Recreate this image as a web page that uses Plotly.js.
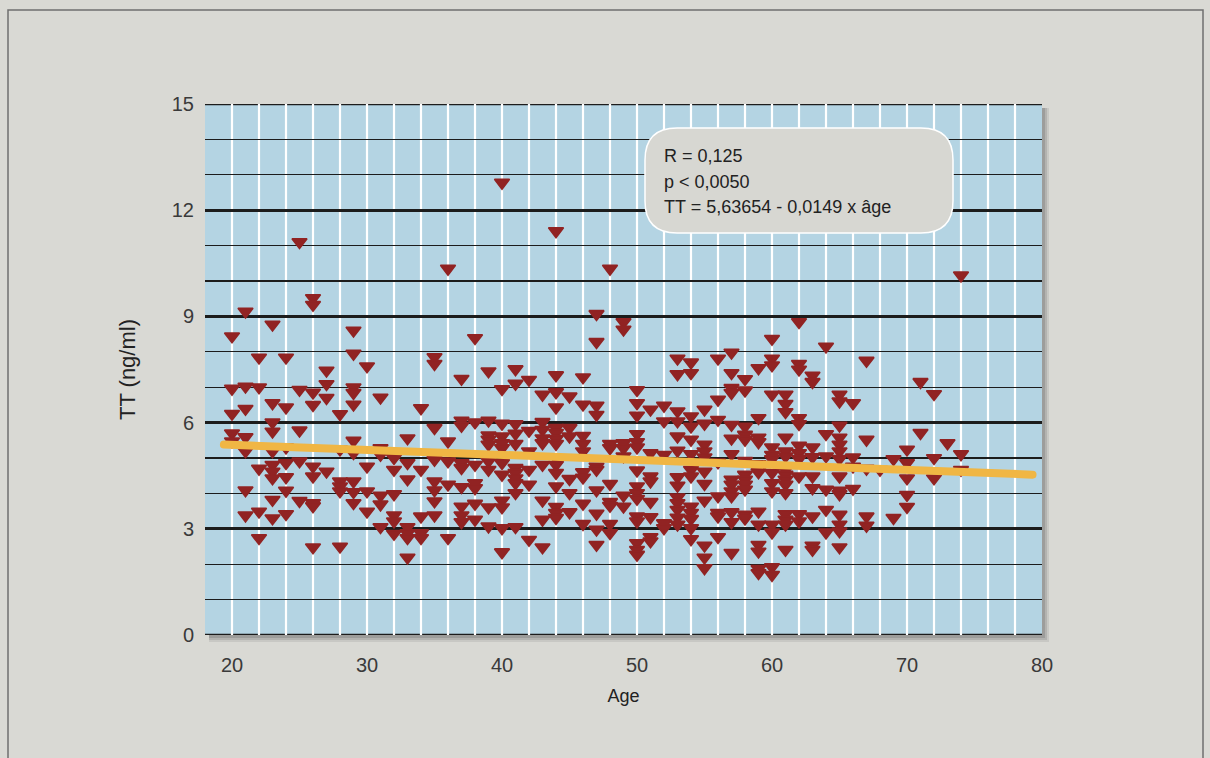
<!DOCTYPE html>
<html>
<head>
<meta charset="utf-8">
<script src="https://cdn.plot.ly/plotly-3.0.1.min.js"></script>
<style>
html, body { margin: 0; padding: 0; background: #d9d9d4; }
#chart { width: 1210px; height: 758px; }
path.js-line { stroke-linecap: round; }
</style>
</head>
<body>
<div id="chart"></div>
<script>
// ---- Data ----
const ages = [20,21,22,23,24,25,26,27,28,29,30,31,32,33,34,35,36,37,38,39,40,41,42,43,44,45,46,47,
              48,49,50,51,52,53,54,55,56,57,58,59,60,61,62,63,64,65,66,67,68,69,70,71,72,73,74];
const ttValues = [
  [8.44, 6.96, 6.25, 5.70, 5.47],                                   // 20
  [9.14, 7.02, 6.39, 5.59, 5.19, 4.09, 3.38],                       // 21
  [7.84, 7.00, 4.70, 3.49, 2.74],                                   // 22
  [8.77, 6.55, 6.01, 5.75, 5.19, 4.81, 4.62, 4.43, 3.82, 3.30],     // 23
  [7.84, 6.43, 5.30, 4.86, 4.46, 4.08, 3.42],                       // 24
  [11.10, 6.93, 5.78, 4.91, 3.79],                                  // 25
  [9.52, 9.33, 6.85, 6.50, 4.76, 4.48, 3.73, 3.64, 2.48],           // 26
  [7.47, 7.09, 6.70, 4.62],                                         // 27
  [6.24, 5.24, 4.34, 4.20, 4.06, 2.50],                             // 28
  [8.60, 7.95, 7.00, 6.84, 6.51, 5.49, 5.14, 4.34, 4.04, 3.73],     // 29
  [7.59, 4.76, 4.06, 3.49],                                         // 30
  [6.71, 5.28, 5.09, 3.94, 3.69, 3.05],                             // 31
  [5.00, 4.67, 3.98, 3.38, 3.21, 2.86],                             // 32
  [5.56, 4.86, 4.40, 3.05, 2.88, 2.74, 2.19],                       // 33
  [6.41, 4.67, 3.35, 2.88, 2.74],                                   // 34
  [7.85, 7.66, 5.85, 4.95, 4.34, 4.09, 3.78, 3.38],                 // 35
  [10.35, 5.47, 4.91, 4.25, 2.74],                                  // 36
  [7.24, 6.06, 5.91, 4.86, 4.72, 4.18, 3.63, 3.38, 3.19],           // 37
  [8.39, 6.01, 4.81, 4.29, 4.15, 3.71, 3.26],                       // 38
  [7.45, 6.06, 5.64, 5.52, 5.38, 4.91, 4.67, 3.61, 3.07],           // 39
  [12.78, 6.95, 5.97, 5.61, 5.42, 5.28, 4.86, 4.53, 3.80, 3.61, 3.02, 2.34], // 40
  [7.51, 7.10, 5.96, 5.69, 5.40, 4.72, 4.58, 4.43, 4.29, 4.01, 3.05],        // 41
  [7.21, 5.77, 5.19, 4.67, 4.25, 2.69],                             // 42
  [6.79, 6.02, 5.80, 5.56, 5.42, 4.81, 3.80, 3.26, 2.48],           // 43
  [11.41, 7.34, 6.86, 6.43, 5.85, 5.71, 5.54, 5.40, 5.00, 4.81, 4.58, 4.20, 3.62, 3.45, 3.31], // 44
  [6.74, 5.85, 5.61, 4.41, 4.01, 3.47],                             // 45
  [7.28, 6.51, 5.63, 5.40, 5.19, 4.60, 4.45, 3.71, 3.14],           // 46
  [9.07, 8.28, 6.48, 6.22, 4.76, 4.67, 4.09, 3.43, 2.98, 2.55],     // 47
  [10.35, 5.40, 5.28, 4.27, 3.76, 3.65, 3.14, 2.88],                // 48
  [8.84, 8.63, 5.42, 5.28, 5.05, 3.94, 3.63],                       // 49
  [6.92, 6.55, 6.20, 5.68, 5.45, 5.30, 4.65, 4.20, 4.01, 3.85, 3.35, 3.21, 2.60, 2.41, 2.27], // 50
  [6.37, 5.14, 4.48, 4.34, 3.76, 3.33, 2.77, 2.65],                 // 51
  [6.48, 6.04, 5.09, 3.16, 3.02],                                   // 52
  [7.81, 7.37, 6.32, 6.04, 5.61, 5.21, 4.46, 4.22, 3.89, 3.73, 3.54, 3.32, 3.12], // 53
  [7.70, 7.40, 6.18, 5.89, 5.52, 5.11, 4.67, 4.48, 3.63, 3.45, 3.28, 3.02, 2.71], // 54
  [6.37, 5.97, 5.38, 5.19, 5.02, 4.62, 4.27, 3.80, 2.53, 2.19, 1.89],             // 55
  [7.81, 6.65, 6.08, 4.88, 3.92, 3.45, 3.35, 2.77],                 // 56
  [7.98, 7.40, 6.98, 6.84, 5.94, 5.55, 5.11, 4.39, 4.25, 4.06, 3.92, 3.47, 3.19, 2.32], // 57
  [7.23, 6.91, 5.89, 5.66, 5.52, 4.92, 4.53, 4.39, 4.25, 4.11, 3.40, 3.29],       // 58
  [7.54, 6.13, 5.58, 5.45, 4.83, 4.60, 3.49, 3.12, 2.55, 2.36, 1.87, 1.75],       // 59
  [8.37, 7.81, 7.62, 6.79, 5.30, 5.09, 4.97, 4.58, 4.29, 4.06, 3.12, 2.90, 1.92, 1.70], // 60
  [6.79, 6.53, 6.30, 5.58, 5.19, 5.05, 4.67, 4.53, 4.39, 4.25, 4.01, 3.42, 3.26, 3.12, 2.41], // 61
  [8.84, 7.66, 7.50, 6.13, 5.96, 5.35, 5.14, 4.98, 4.48, 3.42, 3.21],             // 62
  [7.33, 7.15, 5.30, 5.03, 4.48, 4.15, 3.35, 2.53, 2.41],           // 63
  [8.15, 5.68, 5.05, 4.11, 3.54, 2.90],                             // 64
  [6.79, 6.60, 5.92, 5.58, 5.38, 5.19, 4.98, 4.48, 4.08, 3.98, 3.40, 3.12, 2.93, 2.48], // 65
  [6.55, 5.02, 4.76, 4.13],                                         // 66
  [7.75, 5.52, 4.70, 3.35, 3.09],                                   // 67
  [4.67],                                                           // 68
  [4.97, 3.31],                                                     // 69
  [5.24, 4.86, 4.43, 3.96, 3.62],                                   // 70
  [7.15, 5.71],                                                     // 71
  [6.81, 5.00, 4.43],                                               // 72
  [5.42],                                                           // 73
  [10.16, 5.11, 4.67]                                               // 74
];
const fitAge = [19.4, 79.3];
const fitTT = [5.38, 4.53];
const xTickVals = [20, 30, 40, 50, 60, 70, 80];
const xTickText = ['20', '30', '40', '50', '60', '70', '80'];
const yTickVals = [0, 3, 6, 9, 12, 15];
const yTickText = ['0', '3', '6', '9', '12', '15'];
const statLines = ['R = 0,125', 'p < 0,0050', 'TT = 5,63654 - 0,0149 x âge'];
const xTitle = 'Age';
const yTitle = 'TT (ng/ml)';

// ---- Build traces ----
const ptAge = [], ptTT = [];
ages.forEach((a, i) => ttValues[i].forEach(v => { ptAge.push(a); ptTT.push(v); }));

const FONT = 'Liberation Sans, Arial, Helvetica, sans-serif';
const L = 205, R = 1042, T = 104, B = 635;
const fx = p => (p - L) / (R - L);
const fy = p => (B - p) / (B - T);

const shapes = [];
// outer frame
shapes.push({type: 'path', xref: 'paper', yref: 'paper', layer: 'below',
  path: `M${fx(8)},${fy(775)} L${fx(8)},${fy(10)} L${fx(1203)},${fy(10)} L${fx(1203)},${fy(775)}`,
  line: {color: '#6f6f6f', width: 1.5}});
// drop shadow of the plot area (right and bottom)
[[7, 0.10], [5, 0.14], [3, 0.18]].forEach(([d, op]) => {
  shapes.push({type: 'path', xref: 'paper', yref: 'paper', layer: 'below',
    path: `M${fx(R)},${fy(T + 4)} L${fx(R + d)},${fy(T + 4)} L${fx(R + d)},${fy(B + d)} L${fx(L + 4)},${fy(B + d)} L${fx(L + 4)},${fy(B)} L${fx(R)},${fy(B)} Z`,
    fillcolor: `rgba(60,60,60,${op})`, line: {width: 0}});
});
// top and bottom black border lines
[yTickVals[0], yTickVals[yTickVals.length - 1]].forEach(v => {
  shapes.push({type: 'line', xref: 'paper', yref: 'y', x0: 0, x1: 1, y0: v, y1: v,
    layer: 'between', line: {color: '#1c1c1c', width: 2.6}});
});
// white vertical grid lines every 2 years
for (let g = 20; g < 80; g += 2) {
  shapes.push({type: 'line', xref: 'x', yref: 'paper', x0: g, x1: g, y0: 0, y1: 1,
    layer: 'between', line: {color: '#ffffff', width: 2.2}});
}
// rounded statistics box
const bx0 = 645, bx1 = 953, by0 = 128, by1 = 233, r = 32;
shapes.push({type: 'path', xref: 'paper', yref: 'paper', layer: 'above',
  path: `M${fx(bx0 + r)},${fy(by0)} L${fx(bx1 - r)},${fy(by0)} Q${fx(bx1)},${fy(by0)} ${fx(bx1)},${fy(by0 + r)} ` +
        `L${fx(bx1)},${fy(by1 - r)} Q${fx(bx1)},${fy(by1)} ${fx(bx1 - r)},${fy(by1)} ` +
        `L${fx(bx0 + r)},${fy(by1)} Q${fx(bx0)},${fy(by1)} ${fx(bx0)},${fy(by1 - r)} ` +
        `L${fx(bx0)},${fy(by0 + r)} Q${fx(bx0)},${fy(by0)} ${fx(bx0 + r)},${fy(by0)} Z`,
  fillcolor: '#d7d7d2', line: {color: '#ffffff', width: 1.5}});

const annotations = statLines.map((t, i) => ({
  xref: 'paper', yref: 'paper', x: fx(662), y: fy(156 + i * 25.5),
  xanchor: 'left', yanchor: 'middle', showarrow: false, text: t,
  font: {family: FONT, size: 18, color: '#222222'}
}));

const traces = [
  {type: 'scatter', mode: 'markers', x: ptAge, y: ptTT,
   marker: {symbol: 'triangle-down', size: 13, color: '#912323', line: {color: '#912323', width: 1.6}},
   hoverinfo: 'x+y'},
  {type: 'scatter', mode: 'lines', x: fitAge, y: fitTT,
   line: {color: '#f0b644', width: 8}, hoverinfo: 'skip'}
];

const layout = {
  width: 1210, height: 758,
  margin: {l: L, r: 1210 - R, t: T, b: 758 - B, pad: 0},
  paper_bgcolor: '#d9d9d4',
  plot_bgcolor: '#b4d4e3',
  showlegend: false,
  xaxis: {
    range: [18, 80], tickmode: 'array', tickvals: xTickVals, ticktext: xTickText,
    showgrid: false, zeroline: false, showline: false,
    ticks: 'outside', ticklen: 12, tickcolor: 'rgba(0,0,0,0)',
    tickfont: {family: FONT, size: 20, color: '#3a3a3a'},
    title: {text: xTitle, standoff: 14, font: {family: FONT, size: 18, color: '#222222'}}
  },
  yaxis: {
    range: [0, 15], tickmode: 'array', tickvals: yTickVals, ticktext: yTickText,
    showgrid: true, gridcolor: '#1c1c1c', gridwidth: 2.6,
    minor: {dtick: 1, showgrid: true, gridcolor: '#1c1c1c', gridwidth: 1.3},
    zeroline: false, showline: false,
    ticks: 'outside', ticklen: 6, tickcolor: 'rgba(0,0,0,0)',
    tickfont: {family: FONT, size: 20, color: '#3a3a3a'},
    title: {text: yTitle, standoff: 30, font: {family: FONT, size: 22, color: '#222222'}}
  },
  shapes: shapes,
  annotations: annotations
};

Plotly.newPlot('chart', traces, layout, {displayModeBar: false, staticPlot: true});
</script>
</body>
</html>
